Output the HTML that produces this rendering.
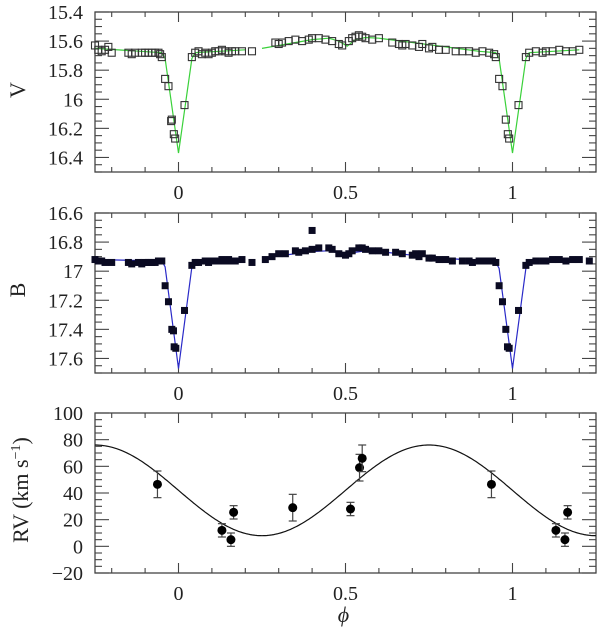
<!DOCTYPE html>
<html><head><meta charset="utf-8"><style>
body{margin:0;background:#fff}
svg{display:block}
text{font-family:"Liberation Serif",serif;fill:#222}
</style></head><body>
<svg id="c" width="600" height="633"></svg>
<script>
// ===== data =====
const vPhase=[-0.25,-0.24,-0.23,-0.22,-0.21,-0.2,-0.15,-0.14,-0.13,-0.11,-0.10,-0.09,-0.08,-0.07,-0.06,-0.055,-0.05,-0.04,-0.03,-0.02,-0.022,-0.014,-0.01,0.018,0.04,0.05,0.06,0.07,0.08,0.09,0.1,0.11,0.12,0.13,0.14,0.15,0.16,0.17,0.19,0.22,
0.29,0.30,0.31,0.33,0.35,0.37,0.39,0.40,0.42,0.44,0.46,0.48,0.49,0.51,0.52,0.53,0.54,0.55,0.56,0.58,0.60,0.64,0.66,0.67,0.68,0.70,0.72,0.73,0.75,0.76,0.78,0.80,0.83,0.85,0.87,0.89,0.91,0.93,0.945,0.95,0.96,0.97,0.98,0.986,0.99,1.018,1.04,1.05,1.07,1.09,1.1,1.12,1.14,1.16,1.18,1.2];
const vMag=[15.63,15.66,15.67,15.66,15.64,15.68,15.68,15.69,15.68,15.68,15.68,15.68,15.68,15.68,15.68,15.69,15.71,15.86,15.91,16.14,16.15,16.24,16.27,16.04,15.71,15.68,15.67,15.69,15.68,15.69,15.68,15.67,15.67,15.66,15.67,15.68,15.67,15.67,15.67,15.67,
15.61,15.62,15.61,15.60,15.59,15.60,15.59,15.58,15.58,15.59,15.60,15.62,15.63,15.60,15.58,15.57,15.56,15.57,15.58,15.59,15.58,15.61,15.62,15.63,15.62,15.63,15.64,15.62,15.65,15.64,15.66,15.66,15.67,15.67,15.67,15.68,15.67,15.68,15.69,15.71,15.86,15.91,16.14,16.24,16.27,16.04,15.71,15.68,15.67,15.68,15.67,15.67,15.66,15.67,15.67,15.66];
const vModelPhase=[-0.25,-0.05,-0.04,0,0.04,0.05,0.2,null,0.25,0.4,0.45,0.48,0.505,0.53,0.56,0.6,0.7,0.8,0.9,0.95,0.96,1.0,1.04,1.05,1.2];
const vModelMag=[15.65,15.68,15.72,16.37,15.72,15.68,15.66,null,15.65,15.59,15.58,15.60,15.635,15.59,15.575,15.58,15.61,15.64,15.67,15.68,15.72,16.37,15.72,15.68,15.66];

const bPhase=[-0.25,-0.24,-0.23,-0.22,-0.2,-0.15,-0.14,-0.12,-0.11,-0.1,-0.09,-0.08,-0.07,-0.06,-0.05,-0.04,-0.03,-0.02,-0.015,-0.013,-0.008,0.018,0.04,0.05,0.06,0.08,0.09,0.1,0.11,0.12,0.13,0.14,0.15,0.16,0.17,0.19,0.22,
0.26,0.28,0.3,0.32,0.35,0.36,0.38,0.40,0.40,0.42,0.45,0.46,0.48,0.5,0.51,0.52,0.54,0.55,0.56,0.58,0.6,0.62,0.65,0.67,0.7,0.71,0.72,0.73,0.75,0.76,0.78,0.8,0.82,0.85,0.87,0.88,0.9,0.92,0.94,0.95,0.96,0.97,0.98,0.985,0.99,1.018,1.04,1.05,1.07,1.09,1.1,1.12,1.14,1.16,1.18,1.2,1.23];
const bMag=[16.92,16.93,16.93,16.94,16.94,16.94,16.95,16.94,16.95,16.94,16.94,16.94,16.94,16.93,16.93,17.10,17.21,17.40,17.41,17.52,17.53,17.27,16.96,16.94,16.94,16.93,16.94,16.93,16.93,16.93,16.92,16.93,16.92,16.93,16.93,16.92,16.94,
16.92,16.90,16.88,16.88,16.86,16.87,16.86,16.85,16.72,16.84,16.84,16.85,16.88,16.89,16.88,16.86,16.84,16.84,16.85,16.86,16.86,16.87,16.87,16.88,16.89,16.88,16.90,16.88,16.91,16.91,16.92,16.92,16.93,16.93,16.93,16.94,16.93,16.93,16.93,16.94,17.10,17.21,17.40,17.52,17.53,17.27,16.96,16.94,16.93,16.93,16.93,16.92,16.92,16.93,16.92,16.92,16.93];
const bModelPhase=[-0.25,-0.05,-0.04,0,0.04,0.05,0.2,null,0.25,0.4,0.45,0.48,0.505,0.53,0.56,0.6,0.7,0.8,0.9,0.95,0.96,1.0,1.04,1.05,1.2];
const bModelMag=[16.92,16.93,16.97,17.67,16.97,16.93,16.92,null,16.91,16.865,16.86,16.875,16.895,16.87,16.86,16.865,16.89,16.91,16.93,16.94,16.98,17.67,16.98,16.93,16.92];

const rvPhase=[-0.063,0.13,0.157,0.165,0.342,0.515,0.542,0.55,0.937,1.13,1.157,1.165];
const rvVal=[46.5,12,5,25.5,29,28,59,66,46.5,12,5,25.5];
const rvErr=[10,5,5,5,10,5,10,10,10,5,5,5];
const rvGamma=[42];
const rvK=[34];

// ===== drawing =====
const svg=document.getElementById('c');
const NS='http://www.w3.org/2000/svg';
function el(t,a,p){const e=document.createElementNS(NS,t);for(const k in a)e.setAttribute(k,a[k]);(p||svg).appendChild(e);return e;}
const X0=95,X1=596,PMIN=-0.25,PMAX=1.25;
const sx=p=>X0+(p-PMIN)/(PMAX-PMIN)*(X1-X0);

function panel(name,top,bot,ymin,ymax,major,minor,labels,dec,title,titleY){
  const g=el('g',{});
  
  
  const sy=v=>top+(v-ymin)/(ymax-ymin)*(bot-top);
  const fr=el('rect',{x:X0,y:top,width:X1-X0,height:bot-top,fill:'none',stroke:'#444','stroke-width':1.3},g);
  
  
  const tk=el('g',{stroke:'#444','stroke-width':1.1},g);
  
  
  for(let i=-2;i<=12;i++){const p=i/10;if(p<PMIN||p>PMAX)continue;const L=(i%5===0)?10:5;const x=sx(p);
    el('line',{x1:x,x2:x,y1:top,y2:top+L},tk);el('line',{x1:x,x2:x,y1:bot,y2:bot-L},tk);}
  const n=Math.round(Math.abs(ymax-ymin)/minor);
  for(let i=0;i<=n;i++){const v=Math.min(ymin,ymax)+i*minor;const y=sy(v);
    const isM=Math.abs(v/major-Math.round(v/major))<1e-6;const L=isM?14:7;
    el('line',{x1:X0,x2:X0+L,y1:y,y2:y},tk);el('line',{x1:X1,x2:X1-L,y1:y,y2:y},tk);}
  labels.forEach(v=>{const t=el('text',{x:83,y:sy(v)+7,'text-anchor':'end','font-size':20},g);t.textContent=(v<0?'\u2212'+Math.abs(v):String(v));
    
    });
  [0,0.5,1].forEach(p=>{const t=el('text',{x:sx(p),y:bot+27,'text-anchor':'middle','font-size':20},g);t.textContent=String(p);
    
    });
  return {g,sy};
}
function modelPath(ph,mg,sy){let d='',pen=false;for(let i=0;i<ph.length;i++){if(ph[i]===null){pen=false;continue;}d+=(pen?'L':'M')+sx(ph[i]).toFixed(1)+','+sy(mg[i]).toFixed(1);pen=true;}return d;}

// V panel
const P1=panel('v-band',12,172,15.4,16.5,0.2,0.05,[15.4,15.6,15.8,16,16.2,16.4],1);
const t1=el('text',{x:0,y:0,'font-size':22,transform:'translate(25,90) rotate(-90)','text-anchor':'middle'});t1.textContent='V';


const vm=el('path',{d:modelPath(vModelPhase,vModelMag,P1.sy),fill:'none',stroke:'#3ad13a','stroke-width':1.2},P1.g);


vPhase.forEach((p,i)=>{const r=el('rect',{x:sx(p)-3.5,y:P1.sy(vMag[i])-3.5,width:7,height:7,fill:'none',stroke:'#333','stroke-width':1.1},P1.g);
  
  });

// B panel
const P2=panel('b-band',213,373,16.6,17.7,0.2,0.05,[16.6,16.8,17,17.2,17.4,17.6],1);
const t2=el('text',{x:0,y:0,'font-size':22,transform:'translate(25,290) rotate(-90)','text-anchor':'middle'});t2.textContent='B';


const bm=el('path',{d:modelPath(bModelPhase,bModelMag,P2.sy),fill:'none',stroke:'#2a2ac8','stroke-width':1.2},P2.g);


bPhase.forEach((p,i)=>{const r=el('rect',{x:sx(p)-3.5,y:P2.sy(bMag[i])-3.5,width:7,height:7,fill:'#0a0a22'},P2.g);
  
  });

// RV panel
const P3=panel('rv',413,573,100,-20,20,5,[100,80,60,40,20,0,-20],0);
const t3=el('text',{x:0,y:0,'font-size':22,transform:'translate(28,490) rotate(-90)','text-anchor':'middle'});
t3.innerHTML='RV  (km  s<tspan dy="-8" font-size="14">\u22121</tspan><tspan dy="8">)</tspan>';


let d='';for(let i=0;i<=300;i++){const p=PMIN+i/300*(PMAX-PMIN);const v=rvGamma[0]-rvK[0]*Math.sin(2*Math.PI*p);d+=(i?'L':'M')+sx(p).toFixed(1)+','+P3.sy(v).toFixed(1);}
const rm=el('path',{d,fill:'none',stroke:'#111','stroke-width':1.2},P3.g);


rvPhase.forEach((p,i)=>{const x=sx(p),y=P3.sy(rvVal[i]),y1=P3.sy(rvVal[i]+rvErr[i]),y2=P3.sy(rvVal[i]-rvErr[i]);
  const g=el('g',{stroke:'#444','stroke-width':1.2},P3.g);
  
  
  el('line',{x1:x,x2:x,y1:y1,y2:y2},g);el('line',{x1:x-4,x2:x+4,y1:y1,y2:y1},g);el('line',{x1:x-4,x2:x+4,y1:y2,y2:y2},g);
  el('circle',{cx:x,cy:y,r:4.5,fill:'#000',stroke:'none'},g);});
const xt=el('text',{x:sx(0.5)-2,y:622,'text-anchor':'middle','font-size':22,'font-style':'italic'});xt.textContent='\u03d5';


</script>
</body></html>
